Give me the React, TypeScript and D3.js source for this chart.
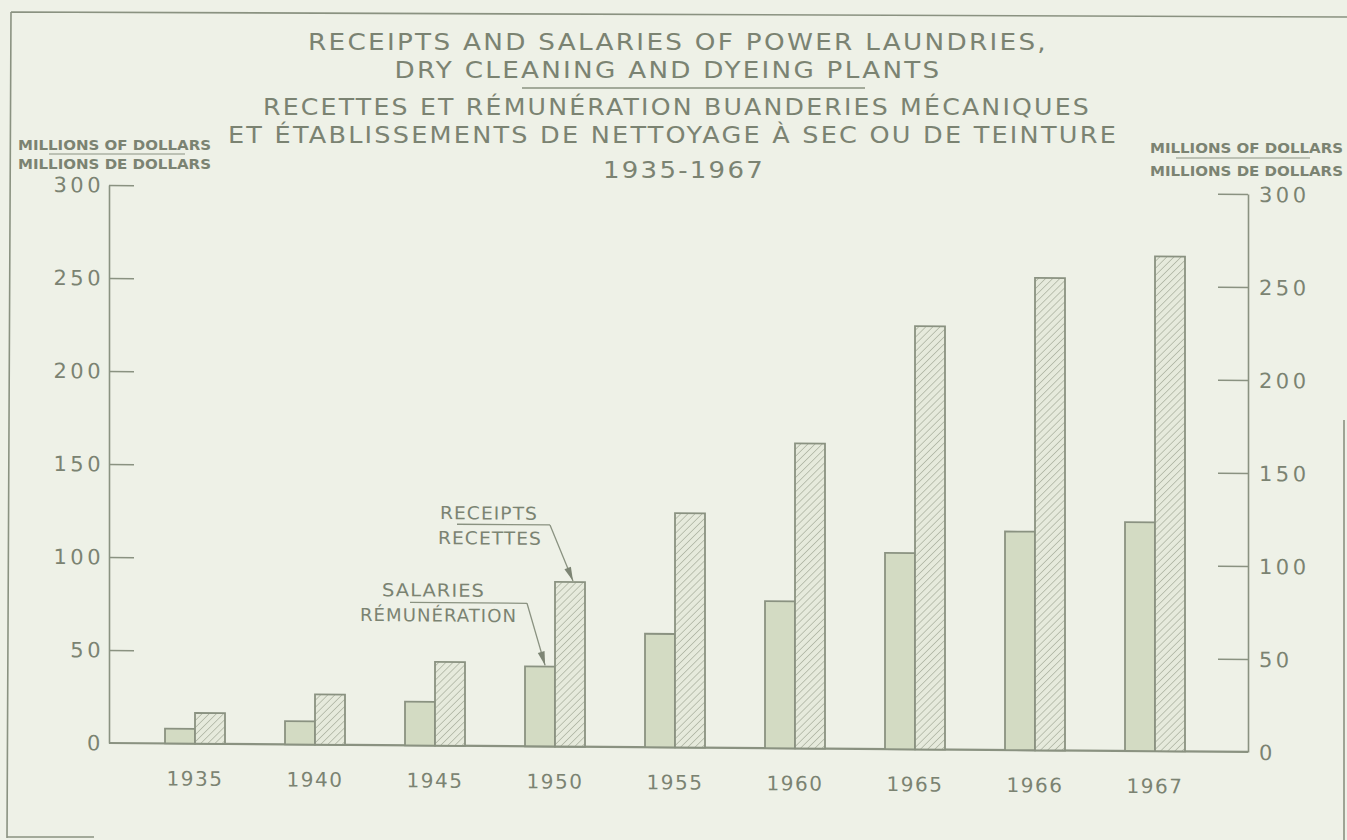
import React, { useEffect, useRef } from 'react';
import * as d3 from 'd3';

// values, millions of dollars
const years = ['1935', '1940', '1945', '1950', '1955', '1960', '1965', '1966', '1967'];
const salaries = [8, 12.5, 23.5, 43, 61, 79, 105.5, 117.5, 123];
const receipts = [16.5, 27, 45, 88.5, 126, 164, 227.5, 254, 266];
const seriesNames = ['salaries', 'receipts'];
const yTicks = [0, 50, 100, 150, 200, 250, 300];
const titleLines = [
	'RECEIPTS AND SALARIES OF POWER LAUNDRIES,',
	'DRY CLEANING AND DYEING PLANTS',
	'RECETTES ET RÉMUNÉRATION BUANDERIES MÉCANIQUES',
	'ET ÉTABLISSEMENTS DE NETTOYAGE À SEC OU DE TEINTURE',
	'1935-1967'
];
const unitLines = ['MILLIONS OF DOLLARS', 'MILLIONS DE DOLLARS'];
const receiptsLabel = ['RECEIPTS', 'RECETTES'];
const salariesLabel = ['SALARIES', 'RÉMUNÉRATION'];

const INK = '#8a9281';
const TEXT = '#7b8372';
const PAPER = '#eef1e7';
const FONT = '"DejaVu Sans", Verdana, sans-serif';

const App = () => {
	const ref = useRef<SVGSVGElement>(null);

	useEffect(() => {
		const svg = d3.select(ref.current);
		svg.selectAll('*').remove();

		const pat = svg
			.append('defs')
			.append('pattern')
			.attr('id', 'hatch')
			.attr('patternUnits', 'userSpaceOnUse')
			.attr('width', 5)
			.attr('height', 5)
			.attr('patternTransform', 'rotate(45)');
		pat.append('rect').attr('width', 5).attr('height', 5).attr('fill', '#e6eadc');
		pat.append('line')
			.attr('x1', 0).attr('y1', 0).attr('x2', 0).attr('y2', 5)
			.attr('stroke', '#98a08d')
			.attr('stroke-width', 1.1);

		svg.append('rect').attr('width', 1347).attr('height', 840).attr('fill', PAPER);

		// frame
		svg.append('path')
			.attr('d', 'M11,12 L1347,17 M11,12 L7,838 M7,837 L94,837 M1344,420 L1344,840')
			.attr('fill', 'none')
			.attr('stroke', INK)
			.attr('stroke-width', 1.6);

		// titles
		const titlePos = [
			{ x: 678, y: 50, w: 740 },
			{ x: 668, y: 78, w: 547 },
			{ x: 677, y: 115, w: 828 },
			{ x: 673, y: 143, w: 890 },
			{ x: 684, y: 178, w: 162 }
		];
		titleLines.forEach((t, i) => {
			const p = titlePos[i];
			svg.append('text')
				.attr('x', p.x - p.w / 2)
				.attr('y', p.y)
				.attr('textLength', p.w)
				.attr('lengthAdjust', 'spacingAndGlyphs')
				.style('font-family', FONT)
				.style('font-size', '23px')
				.style('letter-spacing', '2px')
				.style('fill', TEXT)
				.text(t);
		});
		svg.append('line')
			.attr('x1', 522).attr('x2', 865).attr('y1', 88).attr('y2', 88)
			.attr('stroke', INK).attr('stroke-width', 1.3);

		// unit captions
		const units = [
			{ x: 18, y1: 150, y2: 169, ul: [49, 185, 154] },
			{ x: 1150, y1: 153, y2: 176, ul: [1176, 1310, 158] }
		];
		units.forEach(u => {
			[u.y1, u.y2].forEach((yy, i) => {
				svg.append('text')
					.attr('x', u.x)
					.attr('y', yy)
					.attr('textLength', 193)
					.attr('lengthAdjust', 'spacingAndGlyphs')
					.style('font-family', FONT)
					.style('font-size', '13.5px')
					.style('font-weight', 'bold')
					.style('fill', TEXT)
					.text(unitLines[i]);
			});
			svg.append('line')
				.attr('x1', u.ul[0]).attr('x2', u.ul[1]).attr('y1', u.ul[2]).attr('y2', u.ul[2])
				.attr('stroke', INK).attr('stroke-width', 1.2);
		});

		// plot area, slightly skewed like the scan
		const chart = svg.append('g').attr('transform', 'translate(109,0) skewY(0.45) translate(-109,0)');

		const x = d3.scaleBand().domain(years).range([135, 1215]).paddingInner(0.5).paddingOuter(0.25);
		const xSub = d3.scaleBand().domain(seriesNames).range([0, x.bandwidth()]);
		const y = d3.scaleLinear().domain([0, 300]).range([743, 185]);

		const leftAxis = chart.append('g')
			.attr('transform', 'translate(109,0)')
			.call(d3.axisRight(y).tickValues(yTicks.slice(1)).tickSize(25).tickSizeOuter(0).tickFormat(() => ''));
		const rightAxis = chart.append('g')
			.attr('transform', 'translate(1248,0)')
			.call(d3.axisLeft(y).tickValues(yTicks.slice(1)).tickSize(30).tickSizeOuter(0).tickFormat(() => ''));
		[leftAxis, rightAxis].forEach(a => {
			a.selectAll('path, line').attr('stroke', INK).attr('stroke-width', 1.6);
		});

		chart.append('line')
			.attr('x1', 109).attr('x2', 1248).attr('y1', y(0)).attr('y2', y(0))
			.attr('stroke', INK).attr('stroke-width', 2.2);

		chart.selectAll('.lbl-l')
			.data(yTicks)
			.enter()
			.append('text')
			.attr('x', 104)
			.attr('y', d => y(d) + 7.5)
			.attr('text-anchor', 'end')
			.style('font-family', FONT)
			.style('font-size', '21px')
			.style('letter-spacing', '3.5px')
			.style('fill', TEXT)
			.text(d => d);

		chart.selectAll('.lbl-r')
			.data(yTicks)
			.enter()
			.append('text')
			.attr('x', 1259)
			.attr('y', d => y(d) + 8)
			.style('font-family', FONT)
			.style('font-size', '21px')
			.style('letter-spacing', '3.5px')
			.style('fill', TEXT)
			.text(d => d);

		const rows = years.map((yr, i) => ({ year: yr, salaries: salaries[i], receipts: receipts[i] }));

		const groups = chart.selectAll('.grp')
			.data(rows)
			.enter()
			.append('g')
			.attr('transform', d => `translate(${x(d.year)},0)`);

		groups.selectAll('rect')
			.data(d => seriesNames.map(k => ({ key: k, value: d[k] })))
			.enter()
			.append('rect')
			.attr('x', d => xSub(d.key))
			.attr('y', d => y(d.value))
			.attr('width', xSub.bandwidth())
			.attr('height', d => y(0) - y(d.value))
			.attr('fill', d => (d.key === 'salaries' ? '#d3dbc3' : 'url(#hatch)'))
			.attr('stroke', INK)
			.attr('stroke-width', 1.8);

		groups.append('text')
			.attr('x', x.bandwidth() / 2)
			.attr('y', 785)
			.attr('text-anchor', 'middle')
			.style('font-family', FONT)
			.style('font-size', '20px')
			.style('letter-spacing', '1.5px')
			.style('fill', TEXT)
			.text(d => d.year);

		// callouts on 1950
		const arrow = (x0, y0, x1, y1) => {
			chart.append('line')
				.attr('x1', x0).attr('y1', y0).attr('x2', x1).attr('y2', y1)
				.attr('stroke', INK).attr('stroke-width', 1.3);
			const ang = Math.atan2(y1 - y0, x1 - x0);
			const len = 14;
			const half = 3.5;
			const bx = x1 - len * Math.cos(ang);
			const by = y1 - len * Math.sin(ang);
			const px = -Math.sin(ang) * half;
			const py = Math.cos(ang) * half;
			chart.append('path')
				.attr('d', `M${x1},${y1} L${bx + px},${by + py} L${bx - px},${by - py} Z`)
				.attr('fill', '#7d8574');
		};

		const label = (t, xx, yy, w) => {
			chart.append('text')
				.attr('x', xx)
				.attr('y', yy)
				.attr('textLength', w)
				.attr('lengthAdjust', 'spacingAndGlyphs')
				.style('font-family', FONT)
				.style('font-size', '18px')
				.style('letter-spacing', '1px')
				.style('fill', TEXT)
				.text(t);
		};

		const bw = xSub.bandwidth();
		label(receiptsLabel[0], 440, 516.5, 98);
		label(receiptsLabel[1], 438, 541.5, 104);
		chart.append('line')
			.attr('x1', 457).attr('x2', 550).attr('y1', 521.5).attr('y2', 521.5)
			.attr('stroke', INK).attr('stroke-width', 1.3);
		arrow(550, 521.5, x('1950') + xSub('receipts') + bw * 0.6, y(receipts[3]) - 1);

		label(salariesLabel[0], 382, 594, 103);
		label(salariesLabel[1], 360, 619, 157);
		chart.append('line')
			.attr('x1', 410).attr('x2', 527).attr('y1', 600).attr('y2', 600)
			.attr('stroke', INK).attr('stroke-width', 1.3);
		arrow(527, 600, x('1950') + xSub('salaries') + bw * 0.67, y(salaries[3]) - 1);
	}, []);

	return (
		<svg
			ref={ref}
			width={1347}
			height={840}
			style={{ position: 'absolute', left: 0, top: 0, display: 'block' }}
		/>
	);
};

export default App;
